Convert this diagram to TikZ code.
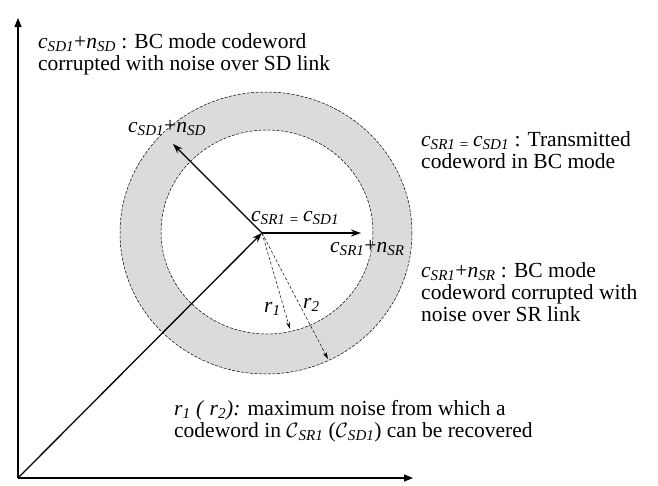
\documentclass[tikz,border=0pt]{standalone}
\usepackage{fontspec}
\setmainfont{Liberation Serif}
\usetikzlibrary{arrows.meta}

\newcommand{\cword}[1]{\textit{c}\textsubscript{\textit{#1}}}
\newcommand{\noisev}[1]{\textit{n}\textsubscript{\textit{#1}}}
\newcommand{\rsub}[1]{\textit{r}\textsubscript{\textit{#1}}}
\newcommand{\codeset}[1]{$\mathcal{C}$\textsubscript{\textit{#1}}}

\begin{document}
\begin{tikzpicture}[
  x=1pt, y=-1pt,
  every node/.style={inner sep=0pt, font=\fontsize{21.5}{22}\selectfont},
  axis/.style={line width=1.2pt, -{Triangle[length=9pt,width=7pt]}},
  vect/.style={line width=1.3pt, -{Stealth[length=10pt,width=7pt]}},
  radvec/.style={line width=0.5pt, dash pattern=on 3pt off 2pt, -{Stealth[length=7pt,width=4pt]}},
  boundary/.style={line width=0.5pt, dash pattern=on 3pt off 1.5pt},
  ring/.style={fill=black!14, even odd rule},
  note/.style={anchor=north west, align=left},
  tag/.style={anchor=base west}
]
\useasboundingbox (0,0) rectangle (658,485);

% axes
\coordinate (O) at (18,478);
\coordinate (ytop) at (18,18);
\coordinate (xend) at (413,478);
\draw[axis] (O) -- (ytop);
\draw[axis] (O) -- (xend);

% decoding regions
\coordinate (outc) at (266,233);
\coordinate (inc) at (267,232);
\fill[ring] (outc) ellipse [x radius=146, y radius=141]
            (inc) ellipse [x radius=106, y radius=102];
\draw[boundary] (outc) ellipse [x radius=146, y radius=141];
\draw[boundary] (inc) ellipse [x radius=106, y radius=102];

% codeword and received vectors
\coordinate (c) at (262,233);
\coordinate (sdtip) at (173,144);
\coordinate (srtip) at (361,233);
\coordinate (r1tip) at (290,329);
\coordinate (r2tip) at (328,359);
\draw[vect] (O) -- (c);
\draw[vect] (c) -- (sdtip);
\draw[vect] (c) -- (srtip);
\draw[radvec] (c) -- (r1tip);
\draw[radvec] (c) -- (r2tip);

\node[tag] (sdlbl) at (128,132) {\cword{SD1}+\noisev{SD}};
\node[tag] (clbl) at (251,221) {\cword{SR1 = }\cword{SD1}};
\node[tag] (srlbl) at (330,252) {\cword{SR1}+\noisev{SR}};
\node[tag] (r1lbl) at (264,312) {\rsub{1}};
\node[tag] (r2lbl) at (303,308) {\rsub{2}};

% notes
\node[note] (sdnote) at (38,33) {\cword{SD1}+\noisev{SD} : BC mode codeword\\corrupted with noise over SD link};
\node[note] (txnote) at (421,131) {\cword{SR1 = }\cword{SD1} : Transmitted\\codeword in BC mode};
\node[note] (srnote) at (421,262) {\cword{SR1}+\noisev{SR} : BC mode\\codeword corrupted with\\noise over SR link};
\node[note] (rnote) at (174,400) {\rsub{1}\textit{ ( }\rsub{2}\textit{):} maximum noise from which a\\codeword in \codeset{SR1} (\codeset{SD1}) can be recovered};
\end{tikzpicture}
\end{document}
